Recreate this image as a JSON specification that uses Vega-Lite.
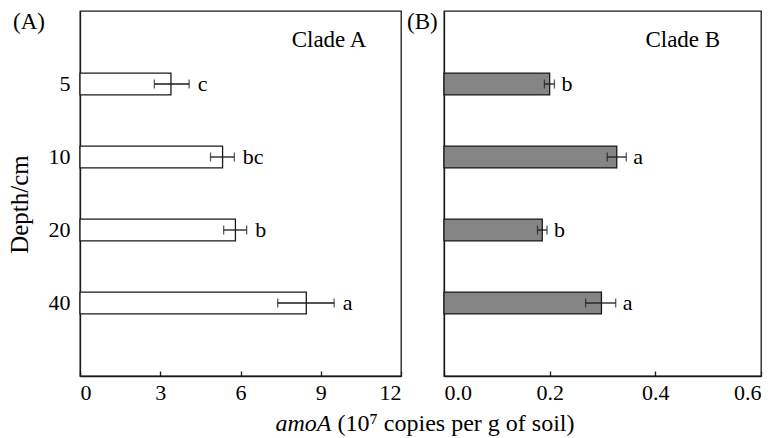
{
  "$schema": "https://vega.github.io/schema/vega-lite/v6.json",
  "background": "white",
  "padding": {"left": 6, "top": 10, "right": 2, "bottom": 2},
  "bounds": "flush",
  "spacing": 43,
  "config": {
    "font": "Liberation Serif",
    "view": {"stroke": "#1a1a1a", "strokeWidth": 1.3},
    "text": {"font": "Liberation Serif"},
    "axis": {
      "domainColor": "#1a1a1a", "domainWidth": 1.3,
      "tickColor": "#1a1a1a", "tickWidth": 1.3, "tickSize": -5,
      "labelFont": "Liberation Serif", "labelFontSize": 22, "labelColor": "black",
      "titleFont": "Liberation Serif", "titleFontSize": 24, "titleFontWeight": "normal", "titleColor": "black",
      "grid": false, "labelPadding": 11, "titlePadding": 8, "zindex": 1
    },
    "style": {
      "guide-label": {"font": "Liberation Serif"},
      "guide-title": {"font": "Liberation Serif"}
    },
    "title": {"font": "Liberation Serif", "fontSize": 23, "fontWeight": "normal", "color": "black"}
  },
  "datasets": {
    "A": [
      {"depth": "5", "mean": 3.4, "lo": 2.78, "hi": 4.08, "sig": "c"},
      {"depth": "10", "mean": 5.33, "lo": 4.88, "hi": 5.77, "sig": "bc"},
      {"depth": "20", "mean": 5.81, "lo": 5.37, "hi": 6.23, "sig": "b"},
      {"depth": "40", "mean": 8.46, "lo": 7.39, "hi": 9.5, "sig": "a"}
    ],
    "B": [
      {"depth": "5", "mean": 0.2, "lo": 0.19, "hi": 0.209, "sig": "b"},
      {"depth": "10", "mean": 0.327, "lo": 0.309, "hi": 0.345, "sig": "a"},
      {"depth": "20", "mean": 0.186, "lo": 0.177, "hi": 0.195, "sig": "b"},
      {"depth": "40", "mean": 0.298, "lo": 0.268, "hi": 0.325, "sig": "a"}
    ]
  },
  "hconcat": [
    {
      "width": 321, "height": 365,
      "title": {"text": "(A)", "anchor": "start", "frame": "group", "dx": -67, "offset": -17, "dy": 24, "baseline": "alphabetic"},
      "layer": [
        {
          "data": {"name": "A"},
          "mark": {"type": "bar", "fill": "white", "stroke": "#1a1a1a", "strokeWidth": 1.3},
          "encoding": {
            "y": {"field": "depth", "type": "nominal", "sort": null, "title": "Depth/cm",
                  "scale": {"domain": ["5", "10", "20", "40"], "paddingInner": 0.7, "paddingOuter": 0.85},
                  "axis": {"titleFontSize": 25, "titlePadding": 16, "labelPadding": 15, "titleY": 193,
                           "labelFont": "Liberation Serif", "titleFont": "Liberation Serif"}},
            "x": {"field": "mean", "type": "quantitative", "title": "amoA",
                  "scale": {"domain": [0, 12], "nice": false, "zero": true},
                  "axis": {"values": [0, 3, 6, 9, 12], "titleFontStyle": "italic",
                           "titleAlign": "left", "titleX": 195,
                           "labelFont": "Liberation Serif", "titleFont": "Liberation Serif"}}
          }
        },
        {
          "data": {"name": "A"},
          "mark": {"type": "errorbar", "ticks": {"size": 9, "thickness": 1.3, "color": "#1a1a1a"}, "rule": {"strokeWidth": 1.3, "color": "#1a1a1a"}},
          "encoding": {
            "y": {"field": "depth", "type": "nominal", "title": "Depth/cm"},
            "x": {"field": "lo", "type": "quantitative", "title": "amoA"},
            "x2": {"field": "hi"}
          }
        },
        {
          "data": {"name": "A"},
          "mark": {"type": "text", "align": "left", "baseline": "middle", "dx": 8.5, "fontSize": 22, "color": "black", "font": "Liberation Serif"},
          "encoding": {
            "y": {"field": "depth", "type": "nominal", "title": "Depth/cm"},
            "x": {"field": "hi", "type": "quantitative", "title": "amoA"},
            "text": {"field": "sig"}
          }
        },
        {
          "data": {"values": [{"t": "Clade A", "x": 9.31}]},
          "mark": {"type": "text", "align": "center", "baseline": "alphabetic", "dy": -37, "fontSize": 23, "color": "black", "font": "Liberation Serif"},
          "encoding": {
            "y": {"datum": "5", "type": "nominal", "title": "Depth/cm"},
            "x": {"field": "x", "type": "quantitative", "title": "amoA"},
            "text": {"field": "t"}
          }
        }
      ]
    },
    {
      "width": 317, "height": 365,
      "title": {"text": "(B)", "anchor": "start", "frame": "group", "dx": -37, "offset": -17, "dy": 24, "baseline": "alphabetic"},
      "layer": [
        {
          "data": {"name": "B"},
          "mark": {"type": "bar", "fill": "#858585", "stroke": "#1a1a1a", "strokeWidth": 1.3},
          "encoding": {
            "y": {"field": "depth", "type": "nominal", "sort": null, "title": "",
                  "scale": {"domain": ["5", "10", "20", "40"], "paddingInner": 0.7, "paddingOuter": 0.85},
                  "axis": {"labels": false, "ticks": false}},
            "x": {"field": "mean", "type": "quantitative", "title": "(10⁷ copies per g of soil)",
                  "scale": {"domain": [0, 0.6], "nice": false, "zero": true},
                  "axis": {"values": [0, 0.2, 0.4, 0.6], "format": ".1f",
                           "titleAlign": "left", "titleX": -107,
                           "labelFont": "Liberation Serif", "titleFont": "Liberation Serif"}}
          }
        },
        {
          "data": {"name": "B"},
          "mark": {"type": "errorbar", "ticks": {"size": 9, "thickness": 1.3, "color": "#1a1a1a"}, "rule": {"strokeWidth": 1.3, "color": "#1a1a1a"}},
          "encoding": {
            "y": {"field": "depth", "type": "nominal", "title": ""},
            "x": {"field": "lo", "type": "quantitative", "title": "(10⁷ copies per g of soil)"},
            "x2": {"field": "hi"}
          }
        },
        {
          "data": {"name": "B"},
          "mark": {"type": "text", "align": "left", "baseline": "middle", "dx": 7, "fontSize": 22, "color": "black", "font": "Liberation Serif"},
          "encoding": {
            "y": {"field": "depth", "type": "nominal", "title": ""},
            "x": {"field": "hi", "type": "quantitative", "title": "(10⁷ copies per g of soil)"},
            "text": {"field": "sig"}
          }
        },
        {
          "data": {"values": [{"t": "Clade B", "x": 0.452}]},
          "mark": {"type": "text", "align": "center", "baseline": "alphabetic", "dy": -37, "fontSize": 23, "color": "black", "font": "Liberation Serif"},
          "encoding": {
            "y": {"datum": "5", "type": "nominal", "title": ""},
            "x": {"field": "x", "type": "quantitative", "title": "(10⁷ copies per g of soil)"},
            "text": {"field": "t"}
          }
        }
      ]
    }
  ]
}
